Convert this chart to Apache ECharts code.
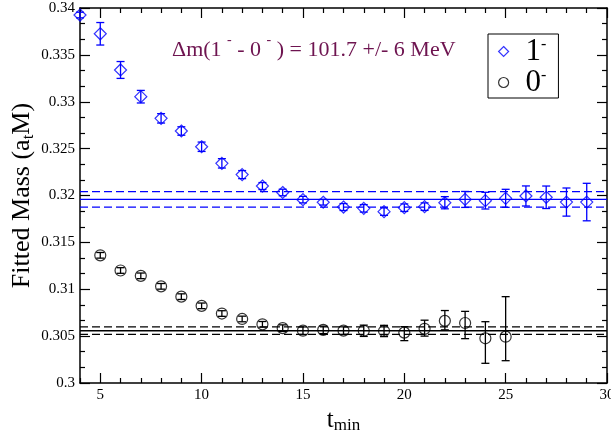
<!DOCTYPE html>
<html><head><meta charset="utf-8">
<script src="https://cdn.jsdelivr.net/npm/echarts@6/dist/echarts.min.js"></script>
<style>html,body{margin:0;padding:0;background:#fff}#c{width:611px;height:437px}</style>
</head><body><div id="c"></div>
<script>
// ---- data ----
const vecT = [4,5,6,7,8,9,10,11,12,13,14,15,16,17,18,19,20,21,22,23,24,25,26,27,28,29];
const vecMass = [0.33925,0.33725,0.33339,0.33054,0.32823,0.32688,0.32520,0.32343,0.32223,0.32101,0.32032,0.31956,0.31928,0.31877,0.31863,0.31828,0.31870,0.31881,0.31923,0.31958,0.31945,0.31970,0.31995,0.31981,0.31930,0.31930];
const vecErr = [0.0003,0.0012,0.0009,0.00067,0.0005,0.00045,0.0005,0.0005,0.00043,0.00037,0.00035,0.00035,0.0003,0.00037,0.0004,0.0004,0.0004,0.0004,0.00065,0.00085,0.00089,0.00096,0.00107,0.0012,0.0015,0.002];

const psT = [5,6,7,8,9,10,11,12,13,14,15,16,17,18,19,20,21,22,23,24,25];
const psMass = [0.31362,0.31200,0.31143,0.31031,0.30921,0.30823,0.30741,0.30683,0.30626,0.30585,0.30558,0.30567,0.30559,0.30557,0.30555,0.30537,0.30578,0.30663,0.30640,0.30477,0.30494];
const psErrUp = [0.0003,0.0003,0.0003,0.0003,0.0003,0.0003,0.0003,0.0003,0.0003,0.00035,0.0004,0.0004,0.0004,0.0006,0.0006,0.00064,0.00092,0.0011,0.00124,0.00177,0.00427];
const psErrDown = [0.0003,0.0003,0.0003,0.0003,0.0003,0.0003,0.0003,0.0003,0.0003,0.00035,0.0004,0.0004,0.0004,0.0006,0.0006,0.00085,0.00078,0.00096,0.00167,0.00267,0.00256];

const vecFit = 0.31959, vecFitErr = 0.00082;
const psFit = 0.30558, psFitErr = 0.0004;

const xMajorTicks = [5,10,15,20,25,30];
const xMinorTicks = [4,6,7,8,9,11,12,13,14,16,17,18,19,21,22,23,24,26,27,28,29];
const xMin = 4, xMax = 30;
const yMin = 0.3, yMax = 0.34, yStep = 0.005;

const annotation = '{n|\u0394m(1 }{s|-}{n| - 0 }{s|-}{n| ) = 101.7 +/- 6 MeV}';

// ---- chart ----
const FONT = 'Liberation Serif';
const chart = echarts.init(document.getElementById('c'), null, {renderer: 'canvas'});

function errorBars(xs, ys, up, down, color) {
  return {
    type: 'custom',
    data: xs.map((x, i) => [x, ys[i] - down[i], ys[i] + up[i]]),
    encode: {x: 0, y: [1, 2]},
    clip: false,
    silent: true,
    z: 2,
    renderItem: (params, api) => {
      const x = api.value(0);
      const lo = api.coord([x, api.value(1)]);
      const hi = api.coord([x, api.value(2)]);
      const hw = 4;
      const style = {stroke: color, lineWidth: 1.3};
      return {type: 'group', children: [
        {type: 'line', shape: {x1: lo[0], y1: lo[1], x2: hi[0], y2: hi[1]}, style},
        {type: 'line', shape: {x1: lo[0] - hw, y1: lo[1], x2: lo[0] + hw, y2: lo[1]}, style},
        {type: 'line', shape: {x1: hi[0] - hw, y1: hi[1], x2: hi[0] + hw, y2: hi[1]}, style}
      ]};
    }
  };
}
function hline(v, color, dashed) {
  return {
    type: 'line', silent: true, symbol: 'none', z: 1,
    data: [[xMin, v], [xMax, v]],
    lineStyle: {color, width: dashed ? 1.3 : 1.4, type: dashed ? [8, 4] : 'solid'}
  };
}
function xAx(pos, major, withLabel) {
  return {
    type: 'value', min: xMin, max: xMax, position: pos,
    axisLine: {show: major, onZero: false, lineStyle: {color: '#000', width: 1.5}},
    axisTick: {inside: true, length: major ? 10 : 5, customValues: major ? xMajorTicks : xMinorTicks,
      lineStyle: {color: '#000', width: 1.2}},
    axisLabel: withLabel ? {customValues: xMajorTicks, color: '#000', fontFamily: FONT, fontSize: 15, margin: 5}
                         : {show: false},
    splitLine: {show: false}
  };
}
function yAx(pos, withLabel) {
  return {
    type: 'value', min: yMin, max: yMax, interval: yStep, position: pos,
    axisLine: {show: true, onZero: false, lineStyle: {color: '#000', width: 1.5}},
    axisTick: {inside: true, length: 10, lineStyle: {color: '#000', width: 1.2}},
    minorTick: {show: true, splitNumber: 3, length: 5, lineStyle: {color: '#000', width: 1.2}},
    axisLabel: withLabel ? {color: '#000', fontFamily: FONT, fontSize: 15, margin: 5} : {show: false},
    splitLine: {show: false}, minorSplitLine: {show: false}
  };
}

const xMain = xAx('bottom', true, true);
xMain.name = '{t|t}{m|min}';
xMain.nameLocation = 'middle';
xMain.nameGap = 25;
xMain.nameMoveOverlap = false;
xMain.nameTextStyle = {rich: {
  t: {fontFamily: FONT, fontSize: 25, color: '#000', verticalAlign: 'top', lineHeight: 26},
  m: {fontFamily: FONT, fontSize: 17, color: '#000', verticalAlign: 'bottom', padding: [12, 0, 0, 0], lineHeight: 17}
}};
const yMain = yAx('left', true);
yMain.name = '{a|Fitted Mass (a}{s|t}{a|M)}';
yMain.nameLocation = 'middle';
yMain.nameGap = 43;
yMain.nameMoveOverlap = false;
yMain.nameTextStyle = {rich: {
  a: {fontFamily: FONT, fontSize: 26, color: '#000', lineHeight: 28, verticalAlign: 'top'},
  s: {fontFamily: FONT, fontSize: 17, color: '#000', lineHeight: 17, verticalAlign: 'bottom', padding: [10, 0, 0, 0]}
}};

const option = {
  animation: false,
  backgroundColor: '#fff',
  grid: {left: 80, right: 4, top: 8, bottom: 54, containLabel: false, outerBoundsMode: 'none'},
  xAxis: [xMain, xAx('bottom', false, false), xAx('top', true, false), xAx('top', false, false)],
  yAxis: [yMain, yAx('right', false)],
  legend: {
    orient: 'vertical', left: 488, top: 34, width: 69,
    padding: [2, 12, 0, 10], itemGap: 0, itemWidth: 10, itemHeight: 10,
    borderColor: '#000', borderWidth: 1, borderRadius: 0,
    selectedMode: false,
    data: [
      {name: '1-', icon: 'diamond', itemStyle: {color: 'rgba(0,0,0,0)', borderColor: '#0000ff', borderWidth: 1.2}},
      {name: '0-', icon: 'circle', itemStyle: {color: 'rgba(0,0,0,0)', borderColor: '#000', borderWidth: 1.2}}
    ],
    formatter: name => '{n|' + name.charAt(0) + '}{s|-}',
    textStyle: {rich: {
      n: {fontFamily: FONT, fontSize: 31, color: '#000', lineHeight: 29, padding: [0, 0, 0, 12]},
      s: {fontFamily: FONT, fontSize: 16, color: '#000', lineHeight: 2, verticalAlign: 'top'}
    }}
  },
  graphic: [{
    type: 'text', left: 172, top: 33, silent: true,
    style: {text: annotation, rich: {
      n: {fontFamily: FONT, fontSize: 22, fill: '#6e1450', lineHeight: 34},
      s: {fontFamily: FONT, fontSize: 14, fill: '#6e1450', lineHeight: 5, verticalAlign: 'top'}
    }}
  }],
  series: [
    hline(vecFit, '#0000ff', false), hline(vecFit + vecFitErr, '#0000ff', true), hline(vecFit - vecFitErr, '#0000ff', true),
    hline(psFit, '#000', false), hline(psFit + psFitErr, '#000', true), hline(psFit - psFitErr, '#000', true),
    errorBars(vecT, vecMass, vecErr, vecErr, '#0000ff'),
    errorBars(psT, psMass, psErrUp, psErrDown, '#000'),
    {name: '1-', type: 'scatter', symbol: 'diamond', symbolSize: 12, clip: false, z: 3,
     itemStyle: {color: 'rgba(0,0,0,0)', borderColor: '#0000ff', borderWidth: 1.2},
     data: vecT.map((t, i) => [t, vecMass[i]])},
    {name: '0-', type: 'scatter', symbol: 'circle', symbolSize: 11, clip: false, z: 3,
     itemStyle: {color: 'rgba(0,0,0,0)', borderColor: '#000', borderWidth: 1.2},
     data: psT.map((t, i) => [t, psMass[i]])}
  ]
};
chart.setOption(option);
</script>
</body></html>
